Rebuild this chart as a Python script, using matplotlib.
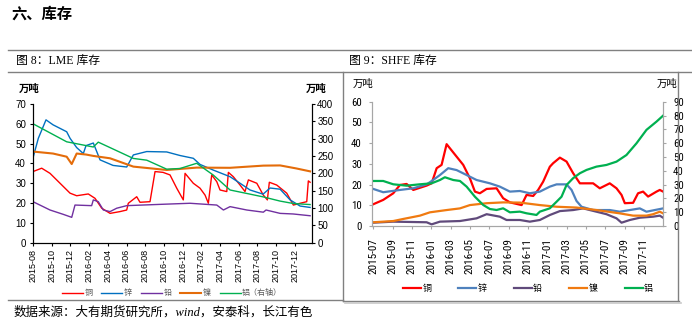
#!/usr/bin/env python3
"""LME / SHFE inventory charts (section 6: 库存)."""
import matplotlib
matplotlib.use('Agg')
import matplotlib.pyplot as plt
from matplotlib.lines import Line2D
from matplotlib import font_manager

# ── Data ───────────────────────────────────────────────────────────────────
# LME, time in months since 2015-08-01, left axis in 万吨, aluminium on right axis
LME_TICKS = ['2015-08', '2015-10', '2015-12', '2016-02', '2016-04', '2016-06',
             '2016-08', '2016-10', '2016-12', '2017-02', '2017-04', '2017-06',
             '2017-08', '2017-10', '2017-12']

CU_LME_T = [0, 0.93, 1.82, 2.89, 3.96, 4.67, 5.91, 6.63, 7.35, 8.24, 9.30, 10.02,
            10.19, 11.09, 11.44, 12.51, 13.05, 13.9, 14.65, 15.37, 16.07, 16.26,
            17.14, 17.86, 18.40, 18.75, 19.11, 19.65, 20.0, 20.72, 20.89, 21.42,
            22.14, 22.67, 23.03, 23.93, 24.63, 25.06, 25.27, 26.06, 27.13, 27.84,
            28.56, 29.27, 29.44, 29.63]
CU_LME = [35.9, 37.6, 35, 30, 25, 23.7, 24.6, 22.4, 17.4, 14.8, 15.7, 16.5,
          19.9, 23.2, 20.4, 20.7, 35.9, 35.5, 34.2, 27.5, 21.6, 35,
          30, 27.5, 24, 19.9, 34.2, 30.8, 26.6, 25.8, 35.5, 33.3,
          29.1, 25.8, 31.7, 30, 24, 21.6, 30.5, 29.1, 25, 19,
          19.9, 20.7, 31.2, 30.5]

ZN_LME_T = [0, 0.57, 1.39, 2.14, 3.6, 3.96, 4.67, 5.38, 5.67, 6.45, 7.17, 8.56,
            10.02, 10.73, 12.16, 14.3, 15.72, 17.14, 17.86, 19.25, 21.07, 22.14,
            23.21, 24.6, 25.35, 26.42, 27.49, 28.56, 29.63]
ZN_LME = [42.8, 52.7, 62, 59.5, 56, 52.7, 48, 45, 49, 50.3, 41.8, 39,
          38.2, 44.3, 46, 45.8, 44, 42.6, 39.5, 36.7, 33.3, 30,
          26.6, 24.5, 27.6, 27, 21.6, 18.5, 17.8]

PB_LME_T = [0, 1.82, 3.24, 4.14, 4.49, 6.27, 6.45, 6.98, 7.52, 8.24, 8.95, 10.02,
            13.9, 16.79, 19.65, 20.36, 21.07, 22.86, 24.63, 24.92, 26.42, 27.81, 29.63]
PB_LME = [20.7, 16.5, 14.3, 12.8, 19, 18.7, 21.6, 20.7, 16.5, 15.7, 17.4, 18.7,
          19.4, 19.9, 19, 16.5, 18.2, 16.5, 15.4, 16.5, 14.8, 14.5, 13.6]

NI_LME_T = [0, 1.07, 2.14, 3.6, 4.14, 4.67, 5.67, 6.45, 8.24, 10.73, 14.3, 17.5,
            21.07, 24.63, 26.42, 28.13, 29.63]
NI_LME = [46, 45.5, 45, 43.4, 39.7, 45, 44.5, 43.8, 42.6, 38.4, 36.7, 37.9,
          37.8, 38.9, 39, 37.5, 36]

AL_LME_T = [0, 3.6, 6.45, 6.98, 10.73, 12.16, 14.3, 15.72, 17.5, 19.28, 21.07,
            22.86, 24.63, 26.42, 27.84, 29.63]
AL_LME = [343, 291, 276, 290, 243, 238, 212, 214, 229, 195, 152,
          142, 132, 120, 113, 110]

# SHFE, time in months since 2015-07-01, aluminium on right axis
SH_TICKS = ['2015-07', '2015-09', '2015-11', '2016-01', '2016-03', '2016-05',
            '2016-07', '2016-09', '2016-11', '2017-01', '2017-03', '2017-05',
            '2017-07', '2017-09', '2017-11']

CU_SH_T = [0, 1.03, 2.07, 2.76, 3.45, 4.14, 5.52, 6.04, 6.56, 7.07, 7.59, 8.62,
           9.31, 10.0, 10.52, 11.03, 11.73, 12.76, 13.44, 14.14, 15.35, 15.86,
           16.55, 17.06, 17.58, 18.27, 18.61, 19.31, 20.0, 20.68, 21.38, 22.75,
           23.44, 24.47, 25.17, 25.69, 26.03, 26.89, 27.4, 27.92, 28.44, 29.31,
           29.65, 29.99]
CU_SH = [10.5, 12.6, 15.8, 19.8, 20.3, 17.4, 19.5, 20.6, 27.9, 29.5, 39.5, 33.5,
         29.5, 23, 16.6, 15.8, 17.9, 18.2, 13.4, 11.4, 10.1, 15,
         14.5, 17.4, 21.4, 28.6, 30.3, 33, 31.1, 25.5, 20.6, 20.6,
         18.2, 20.6, 18.2, 15, 11, 11.2, 15.8, 16.6, 14.2, 16.6,
         17.4, 16.6]

ZN_SH_T = [0, 1.03, 2.76, 4.14, 5.52, 6.04, 6.9, 7.76, 8.62, 9.66, 10.69, 12.07,
           13.1, 14.14, 15.17, 16.2, 17.24, 18.27, 18.97, 20.0, 20.52, 21.03,
           21.55, 22.75, 24.48, 25.51, 26.55, 27.58, 28.27, 29.99]
ZN_SH = [17.9, 16.3, 17.4, 18.2, 20.1, 21.7, 24.6, 27.9, 27, 24.6, 22.2, 20.6,
         19, 16.6, 16.9, 15.8, 16.6, 19, 20.1, 20.1, 17.4, 12.1,
         9.3, 7.7, 7.7, 6.9, 7.7, 8.5, 6.9, 8.5]

PB_SH_T = [0, 2.07, 5.52, 6.04, 6.9, 8.97, 10.69, 11.73, 13.1, 13.79, 15.17, 16.2,
           17.24, 18.27, 19.31, 20.68, 21.72, 23.1, 24.13, 25.17, 25.69, 26.55,
           27.58, 28.96, 29.65, 29.99]
PB_SH = [1.6, 2.1, 1.8, 0.8, 2.1, 2.4, 3.7, 5.7, 4.5, 2.9, 2.9, 2.1,
         2.9, 5.3, 7.2, 7.7, 8.5, 6.9, 5.7, 3.7, 1.6, 2.9,
         4, 4.5, 5.0, 4]

NI_SH_T = [0, 2.07, 3.1, 4.83, 5.86, 7.59, 8.97, 10.0, 11.73, 13.44, 15.17, 17.24,
           18.97, 21.03, 23.1, 25.51, 26.89, 28.27, 28.96, 29.65, 29.99]
NI_SH = [1.8, 2.4, 3.4, 5, 6.6, 7.7, 8.5, 10.1, 11, 11.4, 11.3, 10.1,
         9.3, 8.9, 7.7, 6.1, 5, 5, 5.7, 6.9, 6.1]

AL_SH_T = [0, 1.03, 2.07, 3.45, 4.83, 6.04, 6.9, 7.41, 8.28, 8.97, 9.66, 10.52,
           11.38, 12.07, 12.76, 13.44, 14.14, 15.17, 15.86, 16.89, 17.24, 18.27,
           18.97, 19.48, 20.0, 20.68, 21.38, 22.07, 23.1, 24.13, 25.17, 26.2,
           27.24, 28.27, 29.31, 29.99]
AL_SH = [32.6, 32.6, 30.2, 29.2, 30.2, 30.9, 33.3, 35.3, 33.3, 32.6, 28.5, 21.2,
         15.2, 12.3, 11.6, 12.8, 9.9, 10.4, 9.2, 8, 10.4, 12.8,
         17.6, 21.2, 29.7, 34.6, 38.2, 40.6, 43, 44.2, 46.6, 51.4,
         59.9, 69.6, 75.6, 79.9]

LEGEND_LME = ['铜', '锌', '铅', '镍', '铝（右轴）']
LEGEND_SH = ['铜', '锌', '铅', '镍', '铝']

# ── Style ──────────────────────────────────────────────────────────────────
W, H = 692, 323
CJK = 'Noto Sans CJK SC'
_names = {f.name for f in font_manager.fontManager.ttflist}
NARROW = next((n for n in ['Liberation Sans Narrow', 'DejaVu Sans Condensed',
                           'Roboto Condensed', 'Open Sans Condensed']
               if n in _names), 'Liberation Sans')
plt.rcParams['font.family'] = ['Liberation Sans', CJK]

COL_LME = ['#FF0000', '#0070C0', '#7030A0', '#E46C0A', '#00B050']
COL_SH = ['#FF0000', '#4F81BD', '#604A7B', '#F07A10', '#00B050']
GRID_GRAY = '#808080'


def months_from(label, start):
    """Months between a 'YYYY-MM' tick label and a 'YYYY-MM' start."""
    y, m = map(int, label.split('-'))
    y0, m0 = map(int, start.split('-'))
    return (y - y0) * 12 + (m - m0)


def axes_px(fig, x0, y0, x1, y1):
    return fig.add_axes([x0 / W, 1 - y1 / H, (x1 - x0) / W, (y1 - y0) / H])


def hline(fig, y, x0, x1, color=GRID_GRAY, lw=1.0):
    fig.add_artist(Line2D([x0 / W, x1 / W], [1 - y / H, 1 - y / H],
                          color=color, lw=lw, transform=fig.transFigure))


def vline(fig, x, y0, y1, color=GRID_GRAY, lw=1.0):
    fig.add_artist(Line2D([x / W, x / W], [1 - y0 / H, 1 - y1 / H],
                          color=color, lw=lw, transform=fig.transFigure))


def ftext(fig, x, y, s, **kw):
    fig.text(x / W, 1 - y / H, s, va='center', **kw)


fig = plt.figure(figsize=(W / 100, H / 100), dpi=100)

# ── Frame, titles, source ─────────────────────────────────────────────────
ftext(fig, 11, 14, '六、库存', fontsize=11, fontweight='bold', family=[CJK])
hline(fig, 50, 8, 692)
hline(fig, 71.5, 8, 692)
vline(fig, 343, 71.5, 301)
vline(fig, 678, 71.5, 301)
hline(fig, 300, 8, 343)
hline(fig, 300.5, 343, 679)
hline(fig, 302.5, 345, 681, color='#C8C8C8', lw=1.2)
ftext(fig, 16, 61, '图 8：LME 库存', fontsize=8.5, family=['Liberation Serif', CJK])
ftext(fig, 349, 61, '图 9：SHFE 库存', fontsize=8.5, family=['Liberation Serif', CJK])
ftext(fig, 14, 312, '数据来源：大有期货研究所，wind，安泰科，长江有色',
      fontsize=9, style='italic', family=['Liberation Serif', CJK])

# ── Figure 8: LME ─────────────────────────────────────────────────────────
ax1 = axes_px(fig, 33, 104, 311.7, 242.7)
ax1r = ax1.twinx()
h = []
for t, v, c, lw in [(CU_LME_T, CU_LME, COL_LME[0], 1.0),
                    (ZN_LME_T, ZN_LME, COL_LME[1], 1.0),
                    (PB_LME_T, PB_LME, COL_LME[2], 1.0),
                    (NI_LME_T, NI_LME, COL_LME[3], 1.5)]:
    h += ax1.plot(t, v, color=c, lw=lw)
h += ax1r.plot(AL_LME_T, AL_LME, color=COL_LME[4], lw=1.0)

ax1.set_xlim(0, 29.8)
ax1.set_ylim(0, 70)
ax1r.set_ylim(0, 400)
ax1.set_yticks(range(0, 71, 10))
ax1r.set_yticks(range(0, 401, 50))
ax1.set_xticks([months_from(s, '2015-08') for s in LME_TICKS])
ax1.set_xticklabels(LME_TICKS, rotation=90, fontsize=6.5)
for a in (ax1, ax1r):
    a.spines['top'].set_visible(False)
    for s in a.spines.values():
        s.set_linewidth(0.8)
    a.tick_params(axis='y', labelsize=7, length=2.5, width=0.8, pad=1.5)
ax1.tick_params(axis='y', pad=2.5)
ax1.tick_params(axis='x', length=2.5, width=0.8, pad=2)
ax1.patch.set_alpha(0)
ftext(fig, 19, 89, '万吨', fontsize=7.5, family=[CJK], fontweight='bold')
ftext(fig, 306, 89, '万吨', fontsize=7.5, family=[CJK], fontweight='bold')

fig.legend(h, LEGEND_LME, loc='center', bbox_to_anchor=(172 / W, 1 - 293 / H),
           ncol=5, frameon=False, handlelength=2.6, handletextpad=0.2,
           columnspacing=1.1, prop={'family': [CJK], 'size': 5.8},
           labelcolor='#595959')

# ── Figure 9: SHFE ────────────────────────────────────────────────────────
ax2 = axes_px(fig, 372.3, 101.7, 662.7, 226)
ax2r = ax2.twinx()
h = []
for t, v, c in [(CU_SH_T, CU_SH, COL_SH[0]),
                (ZN_SH_T, ZN_SH, COL_SH[1]),
                (PB_SH_T, PB_SH, COL_SH[2]),
                (NI_SH_T, NI_SH, COL_SH[3])]:
    h += ax2.plot(t, v, color=c, lw=1.6)
h += ax2r.plot(AL_SH_T, AL_SH, color=COL_SH[4], lw=1.6)

ax2.set_xlim(-0.1, 29.95)
ax2.set_ylim(0, 60)
ax2r.set_ylim(0, 90)
ax2.set_yticks(range(0, 61, 10))
ax2r.set_yticks(range(0, 91, 10))
ax2.set_xticks([months_from(s, '2015-07') for s in SH_TICKS])
ax2.set_xticklabels(SH_TICKS, rotation=90, fontsize=8, family=[NARROW])
for a in (ax2, ax2r):
    a.spines['top'].set_visible(False)
    for s in a.spines.values():
        s.set_color('#A6A6A6')
        s.set_linewidth(0.8)
    a.tick_params(axis='both', colors='#A6A6A6', labelcolor='black',
                  length=2.5, width=0.8)
    for lbl in a.get_yticklabels():
        lbl.set_family([NARROW])
        lbl.set_fontsize(7.8)
ax2.tick_params(axis='y', pad=5)
ax2r.tick_params(axis='y', pad=5)
ax2.tick_params(axis='x', pad=6)
ax2.patch.set_alpha(0)
ftext(fig, 353, 84, '万吨', fontsize=7.5, family=[CJK])
ftext(fig, 657, 84, '万吨', fontsize=7.5, family=[CJK])

fig.legend(h, LEGEND_SH, loc='center', bbox_to_anchor=(528 / W, 1 - 289 / H),
           ncol=5, frameon=False, handlelength=2.0, handletextpad=0.15,
           columnspacing=3.0, prop={'family': [CJK], 'size': 6.5})

fig.savefig('out.png', dpi=100)
